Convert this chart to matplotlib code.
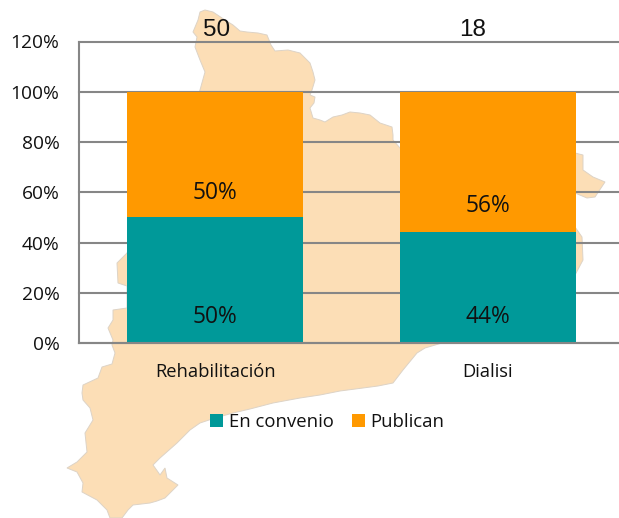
import matplotlib
matplotlib.use("Agg")
import matplotlib.pyplot as plt
from matplotlib.patches import Polygon

W, H = 619, 518
categories = ["Rehabilitación", "Dialisi"]
en_convenio = [50, 44]
publican = [50, 56]
totals = ["50", "18"]
yticks = [0, 20, 40, 60, 80, 100, 120]

# Decorative background silhouette, traced in image pixels
map_outline = [
    (200,12),(205,10),(213,12),(225,20),(233,25),(240,31),(247,32),(258,33),(267,35),(271,45),(275,51),(288,50),(300,53),
    (305,58),(310,63),(313,72),(315,80),(312,90),(310,95),(315,97),(314,103),(310,108),(313,118),(320,120),(325,122),
    (333,117),(342,115),(350,112),(360,113),(370,115),(380,123),(392,127),(393,135),(393,140),(400,148),(480,160),
    (575,153),(583,155),(583,170),(593,177),(605,182),(595,197),(587,198),(575,193),(560,205),(575,227),(582,237),
    (583,260),(575,275),(480,320),(442,343),(425,348),(417,353),(403,370),(393,383),(378,386),(363,388),(340,391),(320,395),
    (300,398),(273,403),(250,409),(233,413),(215,418),(200,423),(190,430),(177,443),(160,458),(153,465),(158,472),
    (160,475),(165,468),(167,478),(178,485),(165,498),(157,501),(150,503),(133,505),(128,510),(122,518),(110,518),
    (107,510),(97,500),(82,492),(83,483),(77,472),(67,468),(77,462),(87,452),(85,433),(93,420),(90,408),(83,400),
    (82,393),(83,385),(98,378),(102,367),(112,364),(115,353),(112,345),(113,340),(108,328),(113,320),(113,310),
    (127,308),(127,286),(118,283),(117,263),(127,253),(150,200),(190,120),(200,90),(205,72),(200,60),
    (195,47),(197,37),(193,32),(198,20),
]

plt.rcParams["font.family"] = ["Open Sans", "DejaVu Sans"]
fig = plt.figure(figsize=(W / 100, H / 100), dpi=100)
fig.patch.set_facecolor("white")

bg = Polygon([(x / W, 1 - y / H) for x, y in map_outline], closed=True, transform=fig.transFigure,
             facecolor="#FCDEB6", edgecolor="#DDD3C6", linewidth=0.7, zorder=0)
fig.add_artist(bg)

left, right, top, bottom = 79, 624, 41.5, 343
ax = fig.add_axes([left / W, 1 - bottom / H, (right - left) / W, (bottom - top) / H], facecolor="none")
x = range(len(categories))
teal, orange = "#009999", "#FF9900"
b1 = ax.bar(x, en_convenio, width=0.645, color=teal, label="En convenio", zorder=3)
b2 = ax.bar(x, publican, width=0.645, bottom=en_convenio, color=orange, label="Publican", zorder=3)
ax.set_xlim(-0.5, 1.5)
ax.set_ylim(0, 120)
ax.set_yticks(yticks)
ax.set_yticklabels([f"{v}%" for v in yticks], fontsize=13.8, color="#111111")
ax.set_xticks(list(x))
ax.set_xticklabels(categories, fontsize=13.2, color="#111111")
ax.tick_params(axis="both", length=0)
ax.tick_params(axis="y", pad=14)
ax.tick_params(axis="x", pad=14.6)
ax.grid(axis="y", color="#868686", linewidth=1.5, zorder=1, clip_on=False)
ax.set_axisbelow(True)
for s in ["top", "right"]:
    ax.spines[s].set_visible(False)
for s in ["left", "bottom"]:
    ax.spines[s].set_color("#868686")
    ax.spines[s].set_linewidth(1.5)
    ax.spines[s].set_zorder(4)

# data labels
for i in x:
    ax.annotate(f"{en_convenio[i]}%", (i, 0), xytext=(0, 18.4), textcoords="offset points",
                ha="center", va="center", fontsize=16.4, color="#111111", zorder=5)
label_y = [59.6, 54.6]
for i in x:
    ax.annotate(f"{publican[i]}%", (i, label_y[i]), ha="center", va="center", fontsize=16.4, color="#111111", zorder=5)

# totals above the plot
total_x = [216.5, 473]
for t, px in zip(totals, total_x):
    fig.text(px / W, 1 - 30.5 / H, t, ha="center", va="center", fontsize=17.5, color="#111111",
             fontfamily="Liberation Sans")

leg = fig.legend(handles=[b1, b2], loc="center", bbox_to_anchor=(327.5 / W, 1 - 422 / H), ncol=2, frameon=False,
                 fontsize=13.3, handlelength=0.7, handleheight=0.7, handletextpad=0.3, columnspacing=1.0,
                 labelcolor="#111111", borderpad=0, borderaxespad=0)

fig.savefig("out.png", dpi=100)
